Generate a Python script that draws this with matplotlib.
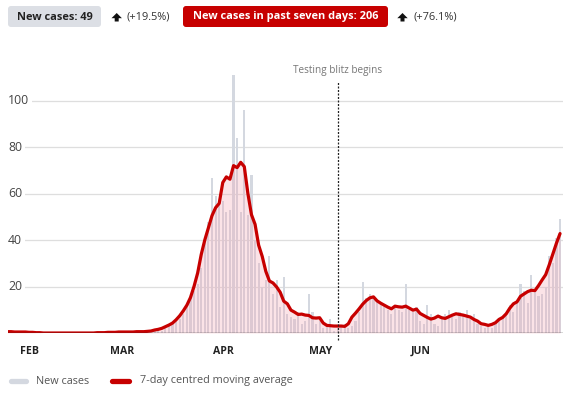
import matplotlib
matplotlib.use('Agg')
import matplotlib.pyplot as plt
import matplotlib.dates as mdates
import matplotlib.transforms as mtransforms
from matplotlib.patches import FancyBboxPatch, Polygon
from matplotlib.lines import Line2D
import numpy as np
import pandas as pd

# ---------------- data ----------------
start_date = '2020-01-25'
new_cases = [
    1, 0, 0, 1, 0, 1, 0, 1, 0, 0,
    0, 0, 0, 0, 0, 0, 0, 0, 0, 0,
    0, 0, 0, 0, 0, 0, 0, 0, 0, 1,
    0, 0, 1, 0, 0, 1,
    1, 0, 0, 1, 1, 0, 1, 2, 1, 3,
    3, 4, 5, 6, 8, 11, 15, 18, 21, 28,
    40, 48, 67, 59, 55, 57, 52, 53, 111, 84,
    52, 96, 51, 68, 40, 30, 20, 23, 33, 17,
    23, 11, 24, 8, 7, 6, 9, 4, 5, 17,
    9, 4, 5, 2, 3, 6, 1, 2, 3, 4,
    2, 3, 5, 9, 22, 15, 17, 16, 14, 13,
    12, 10, 8, 11, 10, 9, 21, 10, 9, 11,
    5, 4, 12, 8, 4, 3, 6, 8, 10, 7,
    6, 9, 8, 10, 6, 8, 4, 3, 2, 3,
    2, 4, 5, 7, 8, 12, 9, 13, 21, 18,
    13, 25, 19, 16, 17, 20, 33, 30, 41, 49,
]
y_ticks = [20, 40, 60, 80, 100]
month_labels = ['FEB', 'MAR', 'APR', 'MAY', 'JUN']
event_date = '2020-04-27'
event_label = 'Testing blitz begins'
header_today = 'New cases: 49'
header_today_change = '(+19.5%)'
header_week = 'New cases in past seven days: 206'
header_week_change = '(+76.1%)'
legend_labels = ['New cases', '7-day centred moving average']

# ---------------- derived ----------------
dates = pd.date_range(start_date, periods=len(new_cases), freq='D')
# 7-day centred moving average, edges padded with the nearest value
padded = np.pad(np.asarray(new_cases, dtype=float), 3, mode='edge')
moving_avg = pd.Series(padded).rolling(7, center=True).mean().values[3:-3]
xnum = mdates.date2num(dates.to_pydatetime())
t0 = mdates.date2num(pd.Timestamp(start_date).to_pydatetime())

# ---------------- layout ----------------
W, H = 574, 397
RED = '#c70000'
BAR = '#d4d8e0'
FONT = ['Open Sans', 'DejaVu Sans']
plt.rcParams['font.family'] = FONT

fig = plt.figure(figsize=(W / 100, H / 100), dpi=100)
fig.patch.set_facecolor('white')

px_per_day = 3.588
x0_px = 3.9          # pixel of first day
ax_left, ax_right = 8, 563
base_y, top_y = 333, 59
units_per_px = 1 / 2.32

ax = fig.add_axes([ax_left / W, (H - base_y) / H,
                   (ax_right - ax_left) / W, (base_y - top_y) / H])
ax.set_xlim(t0 + (ax_left - x0_px) / px_per_day, t0 + (ax_right - x0_px) / px_per_day)
ax.set_ylim(0, (base_y - top_y) * units_per_px)
for s in ax.spines.values():
    s.set_visible(False)
ax.set_xticks([])
ax.set_yticks([])
ax.set_facecolor('white')

# gridlines and labels
ytr = ax.get_yaxis_transform()
for yv in y_ticks:
    ax.axhline(yv, color='#dedede', lw=0.9, zorder=0)
    ax.text(0.0, yv, str(yv), transform=ytr, ha='left', va='center',
            fontsize=8.8, color='#444444', zorder=5,
            bbox=dict(boxstyle='square,pad=0.25', fc='white', ec='none'))

ax.bar(xnum, new_cases, width=0.6, color=BAR, zorder=1, linewidth=0)
ax.fill_between(xnum, moving_avg, 0, color='#f5a5b2', alpha=0.3,
                zorder=2, linewidth=0)
ax.plot(xnum, moving_avg, color=RED, lw=2.3, zorder=3,
        solid_capstyle='round', solid_joinstyle='round')
ax.axhline(0, color='#333333', lw=1.0, zorder=4)

# event line
ev = mdates.date2num(pd.Timestamp(event_date).to_pydatetime())
ax.axvline(ev, ymin=-7 / (base_y - top_y), ymax=(base_y - 82) / (base_y - top_y),
           color='#222222', lw=0.9, linestyle=(0, (1.6, 1.2)), zorder=4, clip_on=False)
ax.text(ev, (base_y - 71) / (base_y - top_y), event_label,
        transform=ax.get_xaxis_transform(), ha='center', va='center',
        fontsize=7.2, color='#777777')

# month labels (positions in pixels)
month_label_px = [29, 122.5, 223.5, 321, 421]
for lab, px in zip(month_labels, month_label_px):
    fig.text(px / W, 1 - 351 / H, lab, ha='center', va='center',
             fontsize=7.6, fontweight='bold', color='#222222')

# ---------------- header ----------------
ident = mtransforms.IdentityTransform()


def box(x, y, w, h, color):
    p = FancyBboxPatch((x, H - y - h), w, h,
                       boxstyle='round,pad=0,rounding_size=3',
                       transform=ident, fc=color, ec='none')
    fig.patches.append(p)


def up_arrow(cx):
    # filled up arrow: wide head + short stem (pixel coordinates, y downwards)
    pts = [(cx, 13.0), (cx + 5.2, 18.2), (cx + 2.0, 18.2), (cx + 2.0, 21.5),
           (cx - 2.0, 21.5), (cx - 2.0, 18.2), (cx - 5.2, 18.2)]
    fig.patches.append(Polygon([(x, H - y) for x, y in pts], closed=True,
                               transform=ident, fc='#111111', ec='none'))


box(8, 6, 93, 21, '#dcdfe5')
fig.text(17 / W, 1 - 17 / H, header_today, ha='left', va='center',
         fontsize=7.9, fontweight='bold', color='#222222')
up_arrow(116.7)
fig.text(127 / W, 1 - 17 / H, header_today_change, ha='left', va='center',
         fontsize=7.9, color='#333333')
box(183, 6, 205, 21, RED)
fig.text(193 / W, 1 - 17 / H, header_week, ha='left', va='center',
         fontsize=7.9, fontweight='bold', color='white')
up_arrow(402.5)
fig.text(413 / W, 1 - 17 / H, header_week_change, ha='left', va='center',
         fontsize=7.9, color='#333333')

# ---------------- legend ----------------
ly = 1 - 381 / H
fig.add_artist(Line2D([11 / W, 26 / W], [ly, ly], transform=fig.transFigure,
                      color=BAR, lw=3.8, solid_capstyle='round'))
fig.text(36 / W, ly, legend_labels[0], ha='left', va='center',
         fontsize=7.8, color='#555555')
fig.add_artist(Line2D([112 / W, 129 / W], [ly, ly], transform=fig.transFigure,
                      color=RED, lw=3.8, solid_capstyle='round'))
fig.text(140 / W, ly, legend_labels[1], ha='left', va='center',
         fontsize=7.8, color='#555555')

fig.savefig('out.png', dpi=100, facecolor='white')
